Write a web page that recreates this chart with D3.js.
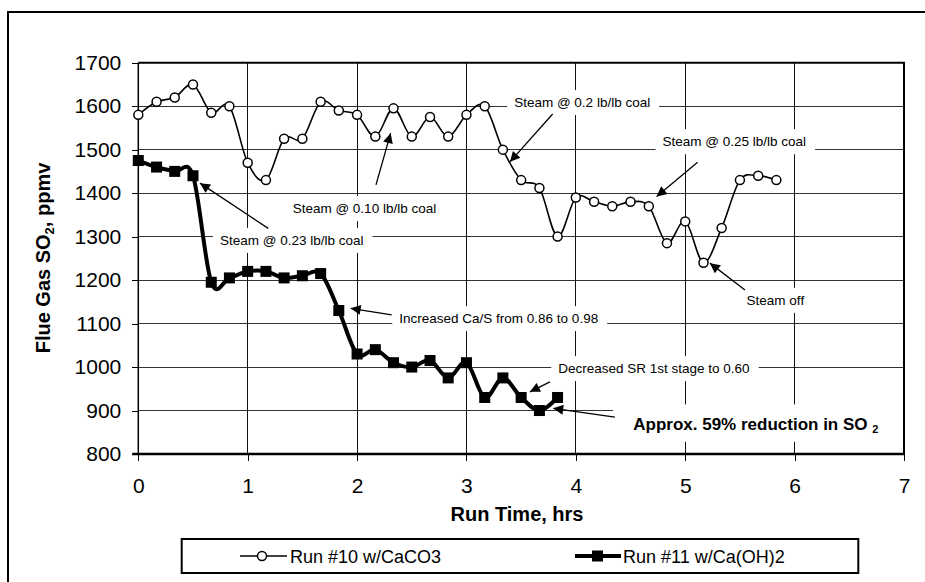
<!DOCTYPE html>
<html>
<head>
<meta charset="utf-8">
<script src="https://cdn.jsdelivr.net/npm/d3@7"></script>
<style>
  html, body { margin: 0; padding: 0; background: #fff; }
  svg { display: block; font-family: "Liberation Sans", Arial, sans-serif; }
</style>
</head>
<body>
<svg id="chart" width="925" height="582"></svg>
<script>
// ---- data ----
const runTime10 = [0, 0.167, 0.333, 0.5, 0.667, 0.833, 1, 1.167, 1.333, 1.5, 1.667, 1.833,
  2, 2.167, 2.333, 2.5, 2.667, 2.833, 3, 3.167, 3.333, 3.5, 3.667, 3.833,
  4, 4.167, 4.333, 4.5, 4.667, 4.833, 5, 5.167, 5.333, 5.5, 5.667, 5.833];
const so2Run10 = [1580, 1610, 1620, 1650, 1585, 1600, 1470, 1430, 1525, 1525, 1610, 1590,
  1580, 1530, 1595, 1530, 1575, 1530, 1580, 1600, 1500, 1430, 1412, 1300,
  1390, 1380, 1370, 1380, 1370, 1285, 1335, 1240, 1320, 1430, 1440, 1430];

const runTime11 = [0, 0.167, 0.333, 0.5, 0.667, 0.833, 1, 1.167, 1.333, 1.5, 1.667, 1.833,
  2, 2.167, 2.333, 2.5, 2.667, 2.833, 3, 3.167, 3.333, 3.5, 3.667, 3.833];
const so2Run11 = [1475, 1460, 1450, 1440, 1195, 1205, 1220, 1220, 1205, 1210, 1215, 1130,
  1030, 1040, 1010, 1000, 1015, 975, 1010, 930, 975, 930, 900, 930];

const xTicks = [0, 1, 2, 3, 4, 5, 6, 7];
const yTicks = [800, 900, 1000, 1100, 1200, 1300, 1400, 1500, 1600, 1700];
const seriesNames = ["Run #10 w/CaCO3", "Run #11 w/Ca(OH)2"];

// annotations: text anchor (t, v) and arrow from -> to, in data units
const notes = [
  { text: "Steam @ 0.2 lb/lb coal",           t: 3.436, v: 1598, from: [3.788, 1582], to: [3.398, 1472] },
  { text: "Steam @ 0.25 lb/lb coal",          t: 4.793, v: 1508, from: [5.113, 1471], to: [4.739, 1392] },
  { text: "Steam @ 0.10 lb/lb coal",          t: 1.411, v: 1354, from: [2.173, 1419], to: [2.307, 1538] },
  { text: "Steam @ 0.23 lb/lb coal",          t: 0.747, v: 1281, from: [1.188, 1319], to: [0.564, 1423] },
  { text: "Increased Ca/S from 0.86 to 0.98", t: 2.386, v: 1101, from: [2.316, 1120], to: [1.941, 1135] },
  { text: "Decreased SR 1st stage to 0.60",   t: 3.839, v: 986,  from: [3.763, 966],  to: [3.58, 943] },
  { text: "Steam off",                        t: 5.561, v: 1143, from: [5.546, 1177], to: [5.226, 1239] }
];

// ---- layout ----
const svg = d3.select("#chart");
const plotL = 138.3, plotR = 904, plotT = 62.7, plotB = 454;
const x = d3.scaleLinear().domain([0, 7]).range([plotL, plotR]);
const y = d3.scaleLinear().domain([800, 1700]).range([plotB, plotT]);

// outer frame (runs off the right/bottom edge)
svg.append("rect").attr("x", 8).attr("y", 12).attr("width", 940).attr("height", 600)
  .attr("fill", "#fff").attr("stroke", "#000").attr("stroke-width", 2);

svg.append("defs").append("marker")
  .attr("id", "arrow").attr("viewBox", "0 0 10 10").attr("refX", 10).attr("refY", 5)
  .attr("markerWidth", 12).attr("markerHeight", 10).attr("markerUnits", "userSpaceOnUse")
  .attr("orient", "auto")
  .append("path").attr("d", "M0,0 L10,5 L0,10 Z").attr("fill", "#000");

// gridlines
const grid = svg.append("g").attr("shape-rendering", "crispEdges");
grid.selectAll(".hg").data(yTicks.slice(1, -1)).join("line")
  .attr("x1", plotL).attr("x2", plotR).attr("y1", d => y(d)).attr("y2", d => y(d))
  .attr("stroke", "#333").attr("stroke-width", 1);
grid.selectAll(".vg").data(xTicks.slice(1, -1)).join("line")
  .attr("x1", d => x(d)).attr("x2", d => x(d)).attr("y1", plotT).attr("y2", plotB)
  .attr("stroke", "#111").attr("stroke-width", 1);

// axes
const yAxis = svg.append("g").attr("transform", `translate(${plotL},0)`)
  .call(d3.axisLeft(y).tickValues(yTicks).tickSize(6).tickPadding(11).tickFormat(d3.format("d")));
const xAxis = svg.append("g").attr("transform", `translate(0,${plotB})`)
  .call(d3.axisBottom(x).tickValues(xTicks).tickSize(7).tickFormat(d3.format("d")).tickPadding(17));
[yAxis, xAxis].forEach(g => {
  g.select(".domain").remove();
  g.selectAll("text").attr("font-size", 21).attr("fill", "#000")
    .attr("font-family", "'Liberation Sans', Arial, sans-serif");
  g.selectAll("line").attr("stroke", "#000").attr("shape-rendering", "crispEdges");
});

// plot frame
svg.append("line").attr("x1", plotL).attr("x2", plotL).attr("y1", plotT).attr("y2", plotB)
  .attr("stroke", "#000").attr("stroke-width", 1.5);
svg.append("path").attr("d", `M${plotL},${plotT}H${plotR}V${plotB}`)
  .attr("fill", "none").attr("stroke", "#000").attr("stroke-width", 2);
svg.append("line").attr("x1", plotL - 6).attr("x2", plotR).attr("y1", plotB).attr("y2", plotB)
  .attr("stroke", "#000").attr("stroke-width", 2.5);

// annotation text boxes
const noteG = svg.append("g");
notes.forEach(n => {
  const g = noteG.append("g");
  const r = g.append("rect").attr("fill", "#fff");
  const t = g.append("text").attr("x", x(n.t)).attr("y", y(n.v))
    .attr("font-size", 13.5).attr("fill", "#000").text(n.text);
  const b = t.node().getBBox();
  r.attr("x", b.x - 7).attr("y", b.y - 5).attr("width", b.width + 16).attr("height", b.height + 10);
});

// the bold note boxed at the right edge
const big = noteG.append("g");
big.append("rect").attr("x", x(4.339)).attr("y", y(914)).attr("width", x(7) - x(4.339) - 1)
  .attr("height", y(828) - y(914)).attr("fill", "#fff");
const bigT = big.append("text").attr("x", x(4.525)).attr("y", y(855))
  .attr("font-size", 17).attr("font-weight", "bold").attr("fill", "#000");
bigT.append("tspan").text("Approx. 59% reduction in SO ");
bigT.append("tspan").attr("font-size", 11).attr("dy", 3).text("2");
svg.append("line").attr("x1", plotR).attr("x2", plotR).attr("y1", y(914)).attr("y2", y(828))
  .attr("stroke", "#000").attr("stroke-width", 2);

// arrows
const arrowData = notes.concat([{ from: [4.357, 885], to: [3.793, 905] }]);
svg.append("g").selectAll("line").data(arrowData).join("line")
  .attr("x1", d => x(d.from[0])).attr("y1", d => y(d.from[1]))
  .attr("x2", d => x(d.to[0])).attr("y2", d => y(d.to[1]))
  .attr("stroke", "#000").attr("stroke-width", 1.3).attr("marker-end", "url(#arrow)");

// series
const run10 = runTime10.map((t, i) => [t, so2Run10[i]]);
const run11 = runTime11.map((t, i) => [t, so2Run11[i]]);
const line = d3.line().x(d => x(d[0])).y(d => y(d[1])).curve(d3.curveCardinal.tension(0));

svg.append("path").datum(run10).attr("d", line)
  .attr("fill", "none").attr("stroke", "#000").attr("stroke-width", 1.6);
svg.append("g").selectAll("circle").data(run10).join("circle")
  .attr("cx", d => x(d[0])).attr("cy", d => y(d[1])).attr("r", 4.5)
  .attr("fill", "#fff").attr("stroke", "#000").attr("stroke-width", 1.5);

svg.append("path").datum(run11).attr("d", line)
  .attr("fill", "none").attr("stroke", "#000").attr("stroke-width", 4);
svg.append("g").selectAll("rect").data(run11).join("rect")
  .attr("x", d => x(d[0]) - 5.5).attr("y", d => y(d[1]) - 5.5)
  .attr("width", 11).attr("height", 11).attr("fill", "#000");

// axis titles
svg.append("text").attr("x", 517).attr("y", 521).attr("text-anchor", "middle")
  .attr("font-size", 20).attr("font-weight", "bold").text("Run Time, hrs");
const yt = svg.append("text").attr("transform", "translate(50,258) rotate(-90)")
  .attr("text-anchor", "middle").attr("font-size", 20).attr("font-weight", "bold");
yt.append("tspan").text("Flue Gas SO");
yt.append("tspan").attr("font-size", 13).attr("dy", 4).text("2");
yt.append("tspan").attr("dy", -4).text(", ppmv");

// legend
const lg = svg.append("g");
lg.append("rect").attr("x", 181.7).attr("y", 539).attr("width", 676.6).attr("height", 34)
  .attr("fill", "#fff").attr("stroke", "#000").attr("stroke-width", 2);
const ly = 556;
lg.append("line").attr("x1", 240).attr("x2", 287).attr("y1", ly).attr("y2", ly)
  .attr("stroke", "#000").attr("stroke-width", 1.6);
lg.append("circle").attr("cx", 262).attr("cy", ly).attr("r", 4.5)
  .attr("fill", "#fff").attr("stroke", "#000").attr("stroke-width", 1.5);
lg.append("line").attr("x1", 575).attr("x2", 621).attr("y1", ly).attr("y2", ly)
  .attr("stroke", "#000").attr("stroke-width", 4);
lg.append("rect").attr("x", 592).attr("y", ly - 5.5).attr("width", 11).attr("height", 11).attr("fill", "#000");
lg.selectAll("text").data(seriesNames).join("text")
  .attr("x", (d, i) => i === 0 ? 290 : 623).attr("y", 563)
  .attr("font-size", 18).attr("fill", "#000").text(d => d);
</script>
</body>
</html>
